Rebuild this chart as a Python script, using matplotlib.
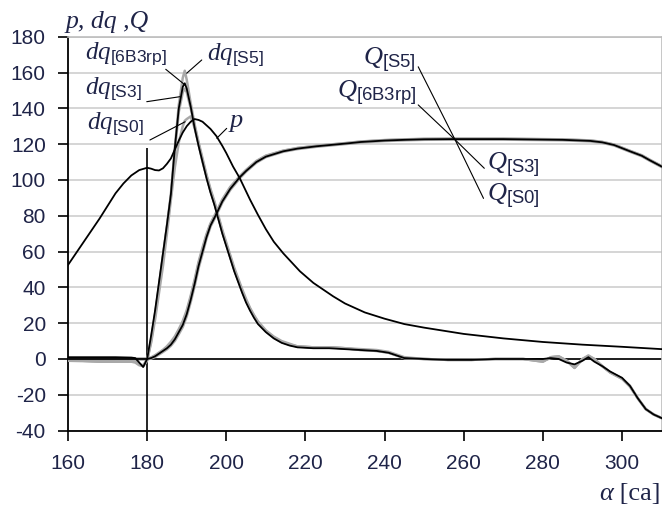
"""
Heat release curves: pressure p, heat release rate dq and cumulative heat Q
versus crank angle for four fuel variants.
"""

import numpy as np
import matplotlib
matplotlib.use('Agg')
import matplotlib.pyplot as plt

plt.rcParams['font.family'] = ['Liberation Sans', 'DejaVu Sans']
plt.rcParams['axes.unicode_minus'] = False
plt.rcParams['mathtext.fontset'] = 'custom'
plt.rcParams['mathtext.it'] = 'Liberation Serif:italic'
plt.rcParams['mathtext.rm'] = 'Liberation Sans'

TXT = '#1f2448'
GREY = '#a9a9a9'

### data ###

# pressure
alpha_p = [160, 162, 164, 166, 168, 170, 172, 174, 176, 178,
           180, 181, 182, 183, 184, 185, 186, 187, 188, 189,
           190, 191, 192, 193, 194, 195, 196, 197.5, 199, 200,
           201.7, 203.4, 206, 208, 210, 212, 214.4, 218.6, 222, 227,
           230, 235, 240, 245, 250, 260, 270, 280, 290, 300,
           310]
p_vals = [52.5, 59, 65.5, 72, 78.5, 85.5, 92.5, 98, 102.5, 105.5,
          106.8, 106.3, 105.5, 105.3, 106.5, 109, 112, 117, 122, 126.5,
          130, 132.5, 134, 133.5, 132.5, 130.5, 128.5, 124.5, 119, 115,
          107.5, 101, 89, 80.5, 72.5, 65.5, 59, 49, 42.5, 35,
          31, 26, 22.5, 19.5, 17.5, 14, 11.5, 9.5, 8, 6.8,
          5.5]

# heat release rate
alpha_dq = [160, 164, 168, 172, 176, 177, 178, 179, 180, 181,
            182, 183, 184, 185, 186, 187, 188, 189, 189.5, 190,
            191, 192, 193, 194, 195, 196, 197, 198, 199, 200,
            201, 202, 203, 204, 205, 206, 207, 208, 210, 212,
            214, 216, 218, 222, 226, 230, 234, 238, 241, 243,
            245, 250, 256, 262, 268, 275, 280, 282, 284, 286,
            288, 290, 291.5, 293, 295, 297, 300, 302, 304, 306,
            308, 310]
dq_6b3rp = [1.0, 1.0, 1.0, 1.0, 0.8, 0.5, -2.0, -4.5, 0.0, 13,
            27, 43, 59, 75, 92, 118, 140, 152, 154, 151,
            141, 129, 119, 110, 101, 93, 86, 78, 70, 63,
            56, 49, 43, 37, 31.5, 27, 23, 19.5, 15, 11.5,
            9, 7.5, 6.5, 6, 6, 5.5, 5, 4.5, 3.5, 2,
            0.5, 0, -0.5, -0.5, 0, 0, 0, 0.5, 0, -2,
            -3, -1, 1, -1.5, -4, -7, -10.5, -15, -22, -28,
            -31, -33]
dq_s5 = [-1.0, -1.2, -1.5, -1.5, -1.5, -2, -3.5, -4, -1, 10,
         24, 40, 57, 74, 92, 118, 142, 157, 161, 156,
         143, 131, 121, 112, 103, 95, 88, 80, 72, 65,
         58, 51, 45, 39, 33.5, 28.5, 24.5, 21, 16, 12.5,
         10, 8.5, 7, 6.5, 6.5, 6, 5.5, 5, 4, 2.5,
         1, 0, -0.5, -0.5, 0, 0, -1.5, 1, 1.5, -1,
         -5, 0, 2, 0, -4, -7.5, -11, -15.5, -22, -28,
         -31, -33]
dq_s3 = [-0.5, -1.0, -1.0, -1.5, -1.5, -1.5, -3, -4, -0.5, 11,
         25, 41, 58, 74, 91, 116, 138, 149, 151, 149,
         140, 130, 120, 111, 102, 94, 87, 79, 71, 64,
         57, 50, 44, 38, 32.5, 28, 24, 20.5, 15.5, 12,
         9.5, 8, 7, 6.5, 6.5, 6, 5, 4.5, 3.5, 2,
         0.5, 0, -0.5, -0.5, 0, 0, -1, 0.5, 1, -1,
         -4.5, -0.5, 1.5, -0.5, -4, -7.5, -11, -15, -22, -28,
         -31, -33]
dq_s0 = [-0.5, -1.0, -1.5, -1.5, -1.5, -1.5, -3, -3.5, -0.5, 9,
         22, 37, 52, 70, 89, 107, 121, 130, 133, 134,
         135.5, 129, 120, 110, 102, 94, 87, 79, 71, 64,
         57, 50, 44, 38, 32.5, 28, 24, 20.5, 15.5, 12,
         9.5, 8, 7, 6.5, 6.5, 6, 5, 4.5, 3.5, 2,
         0.5, 0, -0.5, -0.5, 0, 0, -1.5, 1, 1.5, -1,
         -5, 0, 1.5, 0, -4, -7.5, -11, -15, -22, -28,
         -31, -33]

# cumulative heat
alpha_q = [160, 170, 178, 180, 181, 182, 183, 184, 185, 186,
           187, 188, 189, 190, 191, 192, 193, 194, 195, 196,
           197.5, 199, 201, 203.4, 205, 207.6, 210, 214.4, 218, 222.8,
           231, 234, 240, 245, 250, 257, 270, 285, 292, 295,
           298, 302, 305, 307, 310]
q_6b3rp = [0, 0, 0, 0, 0.5, 1.5, 3, 4.5, 6, 8,
           11, 15, 19, 25, 33, 42, 52, 60, 68, 74.5,
           81, 88, 95, 101.5, 105, 110, 113, 116, 117.5, 118.8,
           120.5, 121.2, 122, 122.4, 122.7, 122.8, 122.8, 122.4, 121.8, 121,
           119.5, 116, 113.5, 111, 107.5]
q_s5 = [0, 0, 0, 0, 0.8, 2, 3.5, 5, 7, 9.5,
        12.5, 16.5, 21, 27, 35, 44, 54, 62, 69.5, 75.5,
        82, 89, 96, 102, 105.5, 110.5, 113.5, 116.3, 117.8, 119,
        120.7, 121.4, 122.2, 122.6, 122.9, 123, 123, 122.6, 122, 121.2,
        119.7, 116.2, 113.7, 111.2, 107.7]
q_s3 = [0, 0, 0, 0, 0.6, 1.7, 3.2, 4.8, 6.5, 8.8,
        11.8, 15.8, 20, 26, 34, 43, 53, 61, 68.8, 75,
        81.5, 88.5, 95.5, 101.8, 105.3, 110.3, 113.3, 116.2, 117.7, 118.9,
        120.6, 121.3, 122.1, 122.5, 122.8, 122.9, 122.9, 122.5, 121.9, 121.1,
        119.6, 116.1, 113.6, 111.1, 107.6]
q_s0 = [0, 0, 0, 0, 0.3, 1.2, 2.6, 4, 5.5, 7.5,
        10.2, 14, 18, 24, 32, 41, 51, 59, 67.5, 74,
        80.5, 87.5, 94.5, 101, 104.7, 109.7, 112.8, 115.8, 117.3, 118.6,
        120.3, 121, 121.8, 122.2, 122.5, 122.6, 122.6, 122.2, 121.6, 120.8,
        119.3, 115.8, 113.3, 110.8, 107.3]

# TDC marker
tdc_alpha = 180
tdc_top = 118

# curve labels: main symbol, subscript, text anchor, leader start, leader end
dq_labels = [
    ('dq', '[6B3rp]', (164.3, 167.5), (184.7, 161.8), (189.6, 153.0)),
    ('dq', '[S5]', (195.0, 166.6), (193.8, 167.0), (190.0, 159.6)),
    ('dq', '[S3]', (164.3, 147.5), (179.9, 143.7), (188.3, 146.5)),
    ('dq', '[S0]', (164.7, 128.3), (180.7, 122.3), (189.6, 132.5)),
]
q_labels = [
    ('Q', '[S5]', (234.6, 164.2), (248.5, 163.2), (257.8, 122.5)),
    ('Q', '[6B3rp]', (227.9, 145.6), (248.5, 141.9), (257.8, 122.5)),
    ('Q', '[S3]', (265.9, 105.6), (265.2, 106.5), (257.8, 122.5)),
    ('Q', '[S0]', (265.9, 88.1), (265.0, 89.7), (257.8, 122.5)),
]
p_label = ('p', (200.4, 129.6), (200.1, 128.8), (197.6, 123.3))

x_ticks = np.arange(160, 301, 20)
y_ticks = np.arange(-40, 181, 20)


def put_label(ax, main, sub, pos, start, end, size):
    """Leader line plus italic symbol with an upright subscript"""
    ax.annotate('', xy=end, xytext=start,
                arrowprops=dict(arrowstyle='-', color='black', lw=0.8,
                                shrinkA=0, shrinkB=0))
    if sub:
        s = r'$%s_{\mathrm{%s}}$' % (main, sub)
    else:
        s = r'$%s$' % main
    ax.text(pos[0], pos[1], s, fontsize=size, color=TXT,
            ha='left', va='baseline')


def main():
    fig = plt.figure(figsize=(6.62, 5.09), dpi=100)
    ax = fig.add_axes([68/662, 1 - 430.6/509, 593.6/662, 393.9/509])

    ax.set_xlim(160, 310)
    ax.set_ylim(-40, 180)
    ax.set_xticks(x_ticks)
    ax.set_yticks(y_ticks)

    ax.grid(axis='y', color='#d2d2d2', lw=1.3, zorder=0)
    ax.set_axisbelow(True)
    for side in ['top', 'right']:
        ax.spines[side].set_color('#bdbdbd')
        ax.spines[side].set_linewidth(1.2)
    for side in ['left', 'bottom']:
        ax.spines[side].set_color('black')
        ax.spines[side].set_linewidth(1.3)

    ax.tick_params(axis='both', direction='out', color='black', width=1.2,
                   labelsize=15, labelcolor=TXT)
    ax.tick_params(axis='y', length=7, pad=9)
    ax.tick_params(axis='x', length=7, pad=10)

    ax.axhline(0, color='black', lw=1.2, zorder=2)
    ax.vlines(tdc_alpha, -40, tdc_top, color='black', lw=1.2, zorder=2)

    # grey variants underneath, black reference on top
    for vals in (q_s5, q_s3, q_s0):
        ax.plot(alpha_q, vals, color=GREY, lw=2.0, zorder=3)
    for vals in (dq_s5, dq_s3, dq_s0):
        ax.plot(alpha_dq, vals, color=GREY, lw=1.8, zorder=3)
    ax.plot(alpha_q, q_6b3rp, color='black', lw=1.3, zorder=4)
    ax.plot(alpha_dq, dq_6b3rp, color='black', lw=1.3, zorder=4)
    ax.plot(alpha_p, p_vals, color='black', lw=1.3, zorder=4)

    for main_, sub, pos, start, end in dq_labels:
        put_label(ax, main_, sub, pos, start, end, 18)
    for main_, sub, pos, start, end in q_labels:
        put_label(ax, main_, sub, pos, start, end, 19)
    put_label(ax, p_label[0], '', p_label[1], p_label[2], p_label[3], 19)

    # axis titles
    ax.annotate('p, dq ,Q', xy=(0, 1), xycoords='axes fraction',
                xytext=(-2, 6), textcoords='offset points',
                fontsize=18.5, fontstyle='italic', family='Liberation Serif',
                color=TXT, ha='left', va='baseline')
    t = ax.annotate('\u03b1', xy=(0.8945, 0), xycoords='axes fraction',
                    xytext=(0, -50), textcoords='offset points',
                    fontsize=19, fontstyle='italic', family='Liberation Serif',
                    color=TXT, ha='left', va='baseline')
    ax.annotate(' [ca]', xy=(1, 0), xycoords=t,
                fontsize=19, family='Liberation Serif',
                color=TXT, ha='left', va='bottom', annotation_clip=False)

    fig.savefig('out.png', dpi=100)


if __name__ == '__main__':
    main()
